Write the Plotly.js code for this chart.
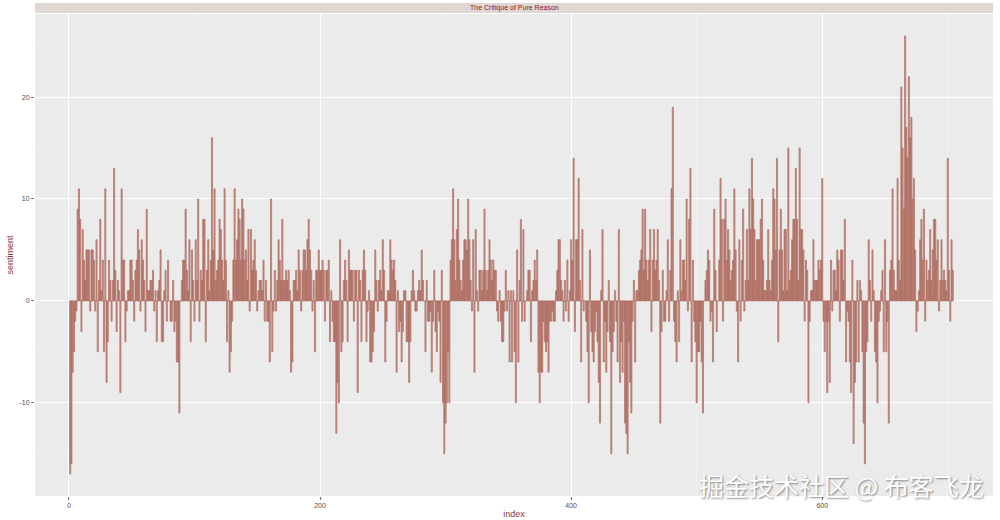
<!DOCTYPE html>
<html>
<head>
<meta charset="utf-8">
<script src="https://cdn.plot.ly/plotly-3.0.1.min.js"></script>
<style>html,body{margin:0;padding:0;background:#fff;}#chart{width:1000px;height:520px;}</style>
</head>
<body>
<div id="chart"></div>
<script>
const chartTitle = "The Critique of Pure Reason";
const xLabel = "index";
const yLabel = "sentiment";
const xTickVals = [0, 200, 400, 600];
const yTickVals = [-10, 0, 10, 20];

const sentimentPart1 = [-17,-16,-7,-5,-2,-1,9,11,8,-3,7,4,2,5,5,5,-1,5,5,4,-1,6,-5,2,8,1,4,-5,11,-8,-4,4,2,-2,2,13,3,-3,2,1,-9,11,4,4,-4,-1,1,1,4,4,2,-2,3];
const sentimentPart2 = [4,7,5,-1,6,4,2,-3,9,1,1,2,2,3,-1,1,-4,1,2,5,-4,-4,1,3,-2,4,0,-2,-2,2,-3,-2,-6,-6,-11,0,2,4,4,9,3,1,6,-4,5,2,-2,6,2,10,-2,3,2,8,8,-4,3,6,1,4];
const sentimentPart3 = [16,5,11,2,3,4,8,7,4,2,11,4,-4,1,-7,-5,-2,4,11,4,6,9,8,4,10,9,4,5,2,7,-1,7,3,4,6,3,-1,1,2,2,1,4,-2,2,-2,-2,-6,10,-5,-1,3,-1,2,6,4,2,8,2,2,3];
const sentimentPart4 = [2,3,1,-7,-6,2,2,3,1,5,3,-1,3,5,5,3,6,8,5,3,-1,2,-5,3,3,5,3,3,4,3,-2,3,3,4,-4,1,-2,-4,-4,-13,-8,-10,6,-5,-4,2,4,2,-4,5,3,3,3,-2,3,3,-9,3,2];
const sentimentPart5 = [-4,3,5,3,-4,-1,1,-6,-6,-5,-3,5,2,-1,2,3,1,6,3,-6,-2,1,1,6,4,3,4,2,-7,1,-3,-2,-6,-3,1,1,-4,-4,-8,-4,1,3,1,-1,-1,1,2,1,5,2,0,-5,2,-2,-2,-1,-7,-2,3,-3];
const sentimentPart6 = [-5,-1,-2,-8,3,-10,-15,-12,-10,-5,-10,4,6,11,6,2,7,10,4,2,1,4,6,6,5,10,6,2,-1,6,-7,7,1,-1,3,3,1,3,9,3,1,3,6,4,2,4,3,3,-1,-2,1,-2,-4,-4,-1,3,-1,1,-6,1];
const sentimentPart7 = [-6,1,-5,-10,5,-6,2,8,-2,7,-2,0,1,3,3,-4,1,2,4,2,5,-7,-10,-7,-7,-2,-4,-5,-4,-7,-2,-2,-1,-2,-2,1,3,6,6,2,1,-2,2,-1,4,-2,1,6,4,14,-3,6,6,12,2,-6,7,-1,0,-2];
const sentimentPart8 = [-5,-10,5,-3,-5,-6,-3,-1,-4,-8,-12,1,7,-6,-2,-7,-3,2,-4,-15,-5,-3,1,-2,-6,7,-8,-4,-7,-2,-12,-13,-15,-4,-8,-11,-2,2,-6,1,1,3,4,5,9,3,9,4,2,4,7,-3,4,7,3,4,7,2,-12];
const sentimentPart9 = [-3,3,-2,-2,1,6,-2,3,11,19,-2,-4,-6,1,-4,6,1,4,4,2,10,-1,8,13,-6,4,-2,-4,-10,-5,-5,-2,-6,-11,0,2,3,5,4,-2,-1,-6,9,3,-3,0,4,12,8,-2,8,10,4,7,5,2,3,4,11,5];
const sentimentPart10 = [-1,-6,6,-2,4,9,-1,2,7,2,11,7,14,10,7,2,6,6,6,8,10,4,1,1,2,7,2,1,4,11,10,5,14,-4,5,9,5,1,7,7,1,15,2,3,6,8,8,13,8,2,15,7,7,5,-2,4,3,-10,-2,1];
const sentimentPart11 = [1,6,2,2,2,4,3,4,12,-2,-5,-2,-9,-2,-8,4,-1,3,3,1,5,4,-2,5,5,2,8,-6,-1,-2,-6,-9,4,-14,-8,-6,2,-6,2,1,-5,-12,-16,-5,-4,6,2,-2,5,1,-5,-6,-10,-2,-1,1,3,-5,6,-5];
const sentimentPart12 = [-2,-12,3,4,11,3,1,1,12,4,2,21,15,9,26,17,14,22,16,18,10,12,5,-3,-1,1,6,8,4,9,-2,4,2,3,7,2,5,8,8,4,6,-1,2,6,2,3,2,1,14,3,-2,6,3];

const sentiment = [].concat(sentimentPart1, sentimentPart2, sentimentPart3, sentimentPart4,
  sentimentPart5, sentimentPart6, sentimentPart7, sentimentPart8, sentimentPart9,
  sentimentPart10, sentimentPart11, sentimentPart12);
const index = sentiment.map((_, i) => i + 1);

const watermark = "掘金技术社区 @ 布客飞龙";

const trace = {
  type: 'bar',
  x: index,
  y: sentiment,
  marker: { color: '#d39c90', line: { color: '#9b5346', width: 0.55 } },
  hoverinfo: 'x+y'
};

const W = 1000, H = 520;
const margin = { l: 35, r: 7, t: 14, b: 24 };
const plotH = H - margin.t - margin.b;
const stripPx = 11;

const layout = {
  width: W, height: H,
  margin: margin,
  paper_bgcolor: '#ffffff',
  plot_bgcolor: '#ebebeb',
  showlegend: false,
  bargap: 0.1,
  font: { family: 'Liberation Sans, Arial, sans-serif', size: 7, color: '#4d4d4d' },
  xaxis: {
    range: [-27, 736],
    tickvals: xTickVals,
    ticktext: xTickVals.map(String),
    ticks: 'outside', ticklen: 3, tickcolor: '#333333', tickwidth: 0.7,
    tickfont: { size: 7, color: '#5a4a48' },
    showgrid: true, gridcolor: '#ffffff', gridwidth: 1,
    minor: { dtick: 100, tick0: 0, showgrid: true, gridcolor: '#f6f6f6', gridwidth: 0.5, ticks: '' },
    zeroline: false, showline: false,
    title: { text: xLabel, font: { size: 9, color: '#8b3a3a' }, standoff: 2 }
  },
  yaxis: {
    range: [-19.15, 28.15],
    tickvals: yTickVals,
    ticktext: yTickVals.map(String),
    ticks: 'outside', ticklen: 3, tickcolor: '#333333', tickwidth: 0.7,
    tickfont: { size: 7, color: '#5a4a48' },
    showgrid: true, gridcolor: '#ffffff', gridwidth: 1,
    minor: { dtick: 5, tick0: 0, showgrid: true, gridcolor: '#f6f6f6', gridwidth: 0.5, ticks: '' },
    zeroline: false, showline: false,
    title: { text: yLabel, font: { size: 9, color: '#8b3a3a' }, standoff: 4 }
  },
  shapes: [{
    type: 'rect', xref: 'paper', yref: 'paper',
    x0: 0, x1: 1, y0: 1 + 1 / plotH, y1: 1 + stripPx / plotH,
    fillcolor: '#e0d6d3', line: { width: 0 }, layer: 'below'
  }],
  annotations: [{
    xref: 'paper', yref: 'paper', x: 0.5, y: 1 + (stripPx / 2 + 0.5) / plotH,
    text: chartTitle, showarrow: false, xanchor: 'center', yanchor: 'middle',
    font: { size: 7, color: '#8b1a1a' }
  }, {
    xref: 'paper', yref: 'paper', x: 0.993, y: 0.022,
    text: watermark, showarrow: false, xanchor: 'right', yanchor: 'middle',
    font: { family: 'Noto Sans CJK SC', size: 25, color: '#ffffff', shadow: '1px 1px 2px rgba(0,0,0,0.45)' }
  }]
};

Plotly.newPlot('chart', [trace], layout, { displayModeBar: false, staticPlot: true });
</script>
</body>
</html>
